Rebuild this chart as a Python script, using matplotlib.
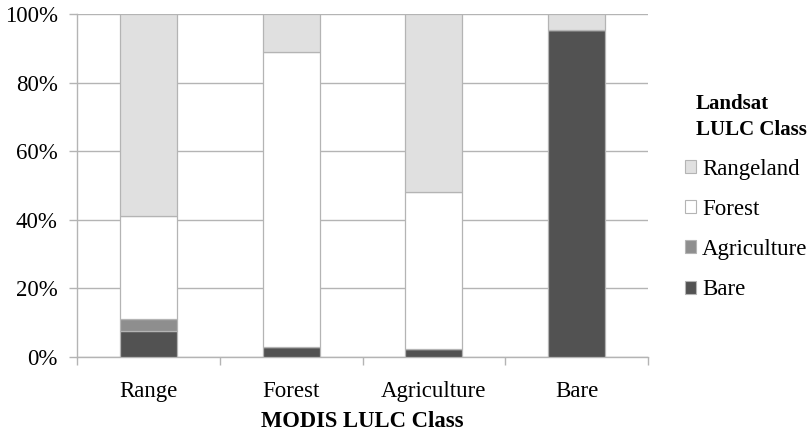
import numpy as np
import matplotlib
matplotlib.use("Agg")
import matplotlib.pyplot as plt
from matplotlib.patches import Patch
from matplotlib.ticker import FuncFormatter, FixedLocator

plt.rcParams['font.family'] = ['Liberation Serif', 'DejaVu Serif']

# MODIS classes on the x axis, Landsat class shares (percent) stacked in each bar
modis_classes = ['Range', 'Forest', 'Agriculture', 'Bare']
bare = [7.6, 3.0, 2.4, 95.4]
agriculture = [3.4, 0.0, 0.0, 0.0]
forest = [30.2, 86.0, 45.6, 0.0]
rangeland = [58.8, 11.0, 52.0, 4.6]

landsat_labels = ['Bare', 'Agriculture', 'Forest', 'Rangeland']
colors = ['#525252', '#8e8e8e', '#ffffff', '#e0e0e0']
edge = '#b4b4b4'

fig = plt.figure(figsize=(8.11, 4.32), dpi=100)
ax = fig.add_axes([0.095, 0.1736, 0.704, 0.794])

x = np.arange(len(modis_classes))
bottom = np.zeros(len(modis_classes))
for vals, col in zip([bare, agriculture, forest, rangeland], colors):
    ax.bar(x, vals, width=0.4, bottom=bottom, color=col,
           edgecolor=edge, linewidth=0.9, zorder=3)
    bottom += np.array(vals)

ax.set_xlim(-0.5, len(modis_classes) - 0.5)
ax.set_ylim(0, 100)
ax.set_yticks(np.arange(0, 101, 20))
ax.yaxis.set_major_formatter(FuncFormatter(lambda v, p: f'{v:.0f}%'))
ax.grid(axis='y', color=edge, linewidth=1.0, zorder=0)

# category labels centred, tick marks on the category boundaries
ax.set_xticks(x)
ax.set_xticklabels(modis_classes)
ax.tick_params(axis='x', which='major', length=0, pad=17, labelsize=16.5)
ax.xaxis.set_minor_locator(FixedLocator(np.arange(-0.5, len(modis_classes), 1)))
ax.tick_params(axis='x', which='minor', length=6, width=1.0, color=edge)
ax.tick_params(axis='y', length=6, width=1.0, color=edge, labelsize=16.5, pad=8)

for side in ['top', 'right']:
    ax.spines[side].set_visible(False)
for side in ['left', 'bottom']:
    ax.spines[side].set_color(edge)
    ax.spines[side].set_linewidth(1.0)

ax.set_xlabel('MODIS LULC Class', fontsize=16.3, fontweight='bold', labelpad=7)

# legend entries, title placed as separate text
handles = [Patch(facecolor=c, edgecolor=edge, linewidth=0.8)
           for c in colors[::-1]]
leg = fig.legend(handles, landsat_labels[::-1],
                 loc='center left', bbox_to_anchor=(0.8446, 0.469), frameon=False,
                 fontsize=16.5, handlelength=0.5, handleheight=0.5,
                 handletextpad=0.25, labelspacing=0.84, borderpad=0,
                 borderaxespad=0)
fig.text(0.858, 0.73, 'Landsat\nLULC Class', fontsize=15, fontweight='bold',
         ha='left', va='center', linespacing=1.4)

fig.savefig('out.png', dpi=100)
